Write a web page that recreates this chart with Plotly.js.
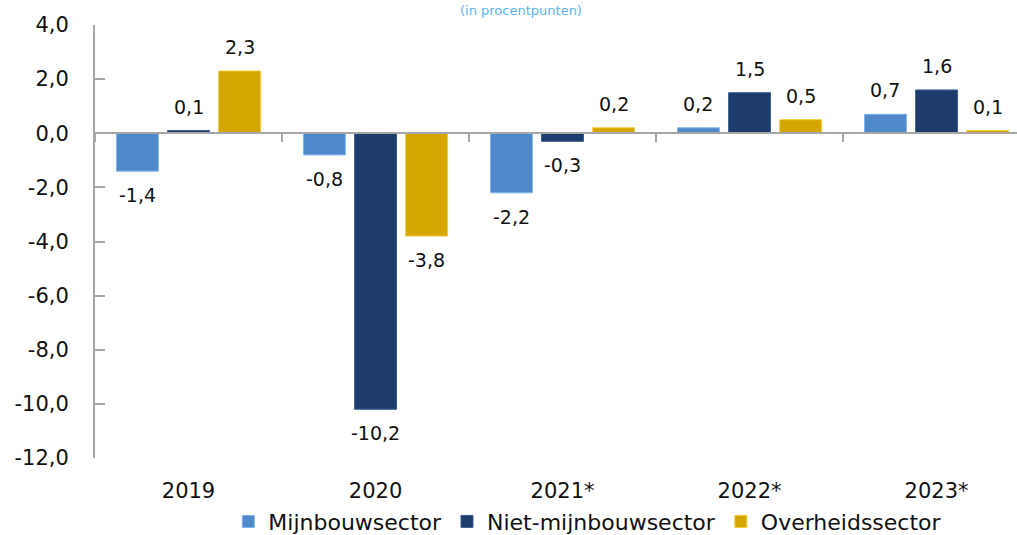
<!DOCTYPE html>
<html>
<head>
<meta charset="utf-8">
<script src="https://cdn.plot.ly/plotly-3.0.1.min.js"></script>
<style>html,body{margin:0;padding:0;background:#fff;}#chart{width:1017px;height:535px;}</style>
</head>
<body>
<div id="chart"></div>
<script>
// ---- data ----
const categories = ['2019', '2020', '2021*', '2022*', '2023*'];
const seriesNames = ['Mijnbouwsector', 'Niet-mijnbouwsector', 'Overheidssector'];
const mijnbouw = [-1.4, -0.8, -2.2, 0.2, 0.7];
const nietMijnbouw = [0.1, -10.2, -0.3, 1.5, 1.6];
const overheid = [2.3, -3.8, 0.2, 0.5, 0.1];
const yTickVals = [4, 2, 0, -2, -4, -6, -8, -10, -12];
const subtitle = '(in procentpunten)';

// ---- styling ----
const W = 1017, H = 535;
const margin = {l: 95, r: 0, t: 25, b: 77};
const xRange = [-0.5, 4.43];
const yRange = [-12, 4];
const bargap = 0.18, bargroupgap = 0.18;
const colors = ['#4F89C9', '#1D3C6B', '#D4A600'];
const lineColors = ['#7FB4EA', '#3A5F93', '#F0CC3A'];
const font = 'DejaVu Sans, sans-serif';
const axisGray = '#A6A6A6';
const fmt = v => v.toFixed(1).replace('.', ',');

const allSeries = [mijnbouw, nietMijnbouw, overheid];

const traces = allSeries.map((vals, i) => ({
  type: 'bar',
  name: seriesNames[i],
  x: categories,
  y: vals,
  marker: {color: colors[i], line: {color: lineColors[i], width: 1}},
  hoverinfo: 'skip'
}));

// data labels via annotations positioned at each bar
const plotW = W - margin.l - margin.r;
const plotH = H - margin.t - margin.b;
const catPx = plotW / (xRange[1] - xRange[0]);
const slotPx = catPx * (1 - bargap) / allSeries.length;
const annotations = [];
allSeries.forEach((vals, i) => {
  vals.forEach((v, j) => {
    annotations.push({
      x: j, y: v, xref: 'x', yref: 'y',
      text: fmt(v),
      showarrow: false,
      xshift: (i - (allSeries.length - 1) / 2) * slotPx,
      yshift: v >= 0 ? 11 : -11,
      yanchor: v >= 0 ? 'bottom' : 'top',
      font: {family: font, size: 19, color: '#111'}
    });
  });
});
// subtitle at the top edge
annotations.push({
  xref: 'paper', yref: 'paper',
  x: (521 - margin.l) / plotW, y: (H - margin.b - 1) / plotH,
  xanchor: 'center', yanchor: 'top',
  text: subtitle, showarrow: false,
  font: {family: font, size: 13, color: '#5AB4F0'}
});

const layout = {
  width: W, height: H,
  margin: margin,
  paper_bgcolor: '#fff', plot_bgcolor: '#fff',
  separators: ',.',
  barmode: 'group',
  bargap: bargap, bargroupgap: bargroupgap,
  font: {family: font, size: 21, color: '#111'},
  showlegend: true,
  legend: {
    orientation: 'h', xref: 'container', yref: 'container',
    x: 0.578, xanchor: 'center', y: 0.025, yanchor: 'middle',
    font: {family: font, size: 22, color: '#111'},
    itemwidth: 30, tracegroupgap: 0, traceorder: 'normal'
  },
  xaxis: {
    type: 'category',
    categoryorder: 'array', categoryarray: categories,
    range: xRange,
    anchor: 'free', position: (0 - yRange[0]) / (yRange[1] - yRange[0]),
    showline: true, linecolor: axisGray, linewidth: 2,
    showgrid: false, zeroline: false,
    tickson: 'boundaries', ticks: 'outside', ticklen: 8, tickwidth: 2, tickcolor: axisGray,
    ticklabelstandoff: 339,
    tickfont: {family: font, size: 21, color: '#111'},
    fixedrange: true
  },
  yaxis: {
    range: yRange,
    tickmode: 'array', tickvals: yTickVals, ticktext: yTickVals.map(fmt),
    showline: true, linecolor: axisGray, linewidth: 2,
    showgrid: false, zeroline: false,
    ticks: 'inside', ticklen: 10, tickwidth: 2, tickcolor: axisGray,
    ticklabelstandoff: 20,
    tickfont: {family: font, size: 21, color: '#111'},
    fixedrange: true
  },
  annotations: annotations
};

Plotly.newPlot('chart', traces, layout, {displayModeBar: false, staticPlot: true});
</script>
</body>
</html>
